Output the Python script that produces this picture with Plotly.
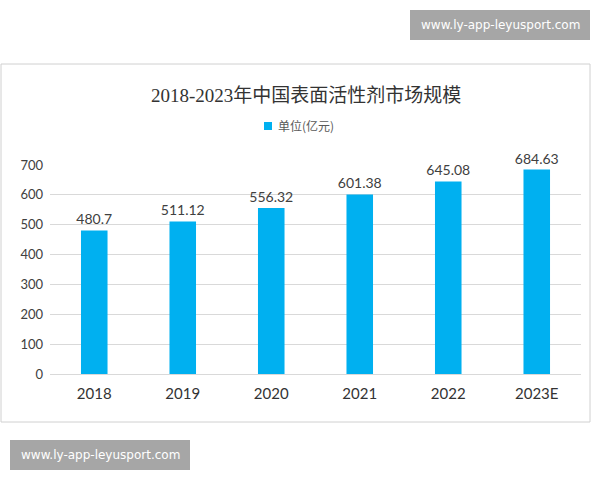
import plotly.graph_objects as go

years = ["2018", "2019", "2020", "2021", "2022", "2023E"]
values = [480.7, 511.12, 556.32, 601.38, 645.08, 684.63]
value_labels = ["480.7", "511.12", "556.32", "601.38", "645.08", "684.63"]
series_name = "单位(亿元)"
title_text = "2018-2023年中国表面活性剂市场规模"
watermark = "www.ly-app-leyusport.com"
y_ticks = [0, 100, 200, 300, 400, 500, 600, 700]
bar_color = "#00B0F0"

W, H = 600, 480
def px(x):
    return x / W
def py(y):
    return 1 - y / H

fig = go.Figure()
fig.add_trace(go.Bar(
    x=years, y=values, name=series_name,
    marker=dict(color=bar_color, line=dict(width=0)),
    width=0.3,
    text=value_labels, textposition="outside", constraintext="none",
    textfont=dict(family="Lato, Noto Sans, sans-serif", size=14, color="#404040"),
    cliponaxis=False, showlegend=False,
))

fig.update_layout(
    width=W, height=H,
    margin=dict(l=0, r=0, t=0, b=0),
    paper_bgcolor="white", plot_bgcolor="white",
    showlegend=False,
    xaxis=dict(domain=[px(50), px(581)], showgrid=False, showline=True,
               linecolor="#d9d9d9", linewidth=1, ticks="", ticklabelstandoff=6,
               tickfont=dict(family="Lato, Noto Sans, sans-serif", size=15, color="#333333"),
               automargin=False),
    yaxis=dict(domain=[py(374), py(165)], range=[0, 700], tickvals=y_ticks,
               showgrid=True, gridcolor="#d9d9d9", gridwidth=1, zeroline=False,
               showline=False, ticks="", ticklabelstandoff=6,
               tickfont=dict(family="Lato, Noto Sans, sans-serif", size=13, color="#404040"),
               automargin=False),
    bargap=0.7,
)

# chart frame
fig.add_shape(type="rect", xref="paper", yref="paper",
              x0=px(1), x1=px(590), y0=py(422), y1=py(64),
              line=dict(color="#d0d0d0", width=1), fillcolor="rgba(0,0,0,0)", layer="below")

# title
fig.add_annotation(text=title_text, xref="paper", yref="paper", x=px(306), y=py(96),
                   xanchor="center", yanchor="middle", showarrow=False,
                   font=dict(family="Liberation Serif, Noto Sans CJK SC", size=19, color="#333333"))

# legend
fig.add_shape(type="rect", xref="paper", yref="paper",
              x0=px(264), x1=px(272), y0=py(130), y1=py(122),
              line=dict(width=0), fillcolor=bar_color)
fig.add_annotation(text=series_name, xref="paper", yref="paper", x=px(276), y=py(126),
                   xanchor="left", yanchor="middle", showarrow=False,
                   font=dict(family="Noto Sans CJK SC", size=12, color="#595959"))

# watermarks
for (x0, y0, x1, y1) in [(410, 10, 590, 40), (10, 440, 190, 470)]:
    fig.add_shape(type="rect", xref="paper", yref="paper",
                  x0=px(x0), x1=px(x1), y0=py(y1), y1=py(y0),
                  line=dict(width=0), fillcolor="#a6a6a6")
    fig.add_annotation(text=watermark, xref="paper", yref="paper",
                       x=px((x0 + x1) / 2), y=py((y0 + y1) / 2),
                       xanchor="center", yanchor="middle", showarrow=False,
                       font=dict(family="DejaVu Sans, sans-serif", size=12, color="white"))

fig.write_html("out.html")
